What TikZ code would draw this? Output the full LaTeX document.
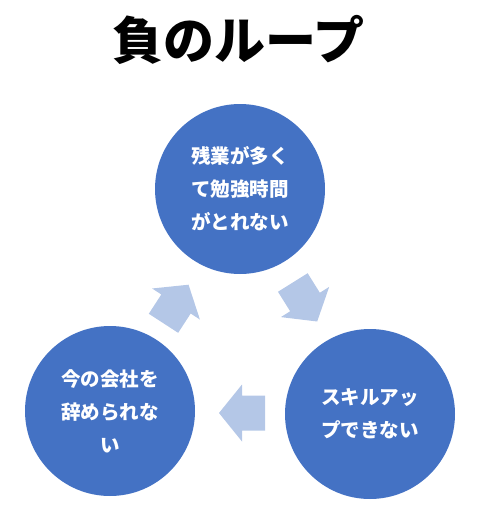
\documentclass[tikz,border=0pt]{standalone}
\usepackage{fontspec}
\newfontfamily\jp{Noto Sans CJK JP}
\definecolor{circblue}{HTML}{4472C4}
\definecolor{arrblue}{HTML}{B4C7E7}
\begin{document}
\begin{tikzpicture}[x=1pt,y=-1pt,
  circ/.style={circle,fill=circblue,minimum size=170pt,inner sep=0pt,text=white,
    font=\jp\bfseries\fontsize{19.5}{33}\selectfont,align=center},
  blockarrow/.style={fill=arrblue}]
\useasboundingbox (0,0) rectangle (480,506);
\node[font=\jp\bfseries\fontsize{51}{55}\selectfont] (title) at (238,40) {負のループ};
\node[circ] (top) at (240,189) {残業が多く\\て勉強時間\\がとれない};
\node[circ] (left) at (110,411) {今の会社を\\辞められな\\い};
\node[circ] (right) at (370,414) {スキルアッ\\プできない};
\foreach \cx/\cy/\ang in {242/413/180, 176/304/57, 305/302/-58}{
  \fill[blockarrow,shift={(\cx,\cy)},rotate=\ang]
    (-23,-17.5) -- (0,-17.5) -- (0,-28.5) -- (23,0) -- (0,28.5) -- (0,17.5) -- (-23,17.5) -- cycle;
}
\end{tikzpicture}
\end{document}
